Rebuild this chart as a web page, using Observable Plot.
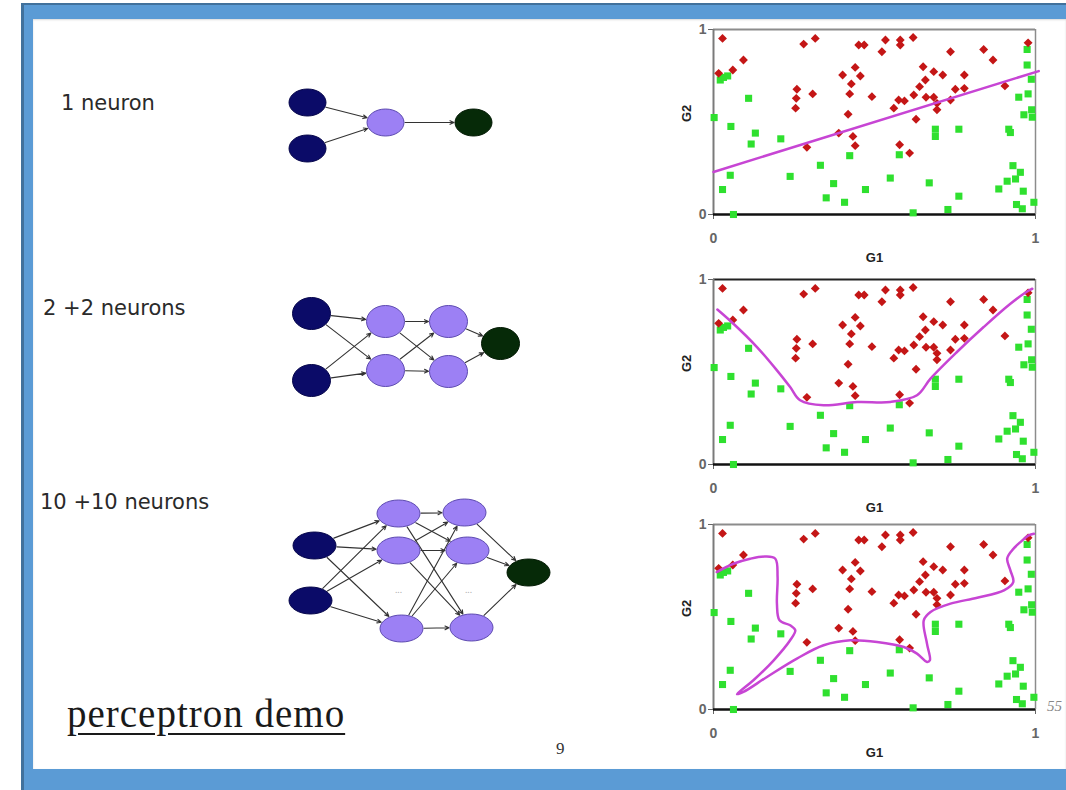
<!DOCTYPE html>
<html><head><meta charset="utf-8">
<script src="https://cdn.jsdelivr.net/npm/d3@7"></script>
<script src="https://cdn.jsdelivr.net/npm/@observablehq/plot@0.6"></script>
<style>
body{margin:0;background:#fff;}
#slide{position:relative;width:1066px;height:790px;overflow:hidden;background:#fff;}
.abs{position:absolute;}
.lbl{position:absolute;font-family:"DejaVu Sans",sans-serif;font-size:21px;line-height:21px;color:#2a2a2a;white-space:nowrap;}
svg{overflow:visible;}
</style></head><body>
<div id="slide">
  <div class="abs" style="left:21px;top:3px;right:0;bottom:0;background:#5b9bd5;border-left:3px solid #41719c;border-top:2px solid #41719c;"></div>
  <div class="abs" style="left:33px;top:19px;width:1033px;height:750px;background:#fff;box-shadow:0 1px 2px rgba(0,0,0,0.15) inset;"></div>
  <div class="lbl" style="left:61px;top:93px;">1 neuron</div>
  <div class="lbl" style="left:43px;top:298px;">2 +2 neurons</div>
  <div class="lbl" style="left:40px;top:492px;">10 +10 neurons</div>
  <div class="abs" style="left:67px;top:694px;font-family:'Liberation Serif',serif;font-size:39px;line-height:39px;letter-spacing:1px;color:#1a1a1a;text-decoration:underline;text-decoration-thickness:2px;text-underline-offset:6px;white-space:nowrap;">perceptron demo</div>
  <div class="abs" style="left:556px;top:740px;font-family:'Liberation Serif',serif;font-size:17px;line-height:17px;color:#333;">9</div>
  <div class="abs" style="left:1047px;top:699px;font-family:'Liberation Serif',serif;font-style:italic;font-size:15px;line-height:15px;color:#888;">55</div>
  <div id="nets" class="abs" style="left:30px;top:19px;"></div>
  <div id="p1" class="abs" style="left:672px;top:20px;"></div>
  <div id="p2" class="abs" style="left:672px;top:270px;"></div>
  <div id="p3" class="abs" style="left:672px;top:515px;"></div>
</div>
<script>
// ---------- scatter data (G1, G2) ----------
const redG1 = [0.028,0.016,0.06,0.093,0.28,0.316,0.259,0.257,0.255,0.308,0.29,0.389,0.401,0.44,0.456,0.428,0.423,0.418,0.433,0.44,0.451,0.468,0.492,0.523,0.534,0.58,0.58,0.62,0.56,0.575,0.593,0.578,0.609,0.629,0.622,0.64,0.658,0.651,0.66,0.684,0.684,0.694,0.694,0.712,0.736,0.736,0.751,0.779,0.779,0.839,0.868,0.905,0.977];
const redG2 = [0.952,0.763,0.781,0.835,0.921,0.952,0.677,0.628,0.575,0.652,0.363,0.44,0.754,0.795,0.749,0.706,0.652,0.542,0.422,0.372,0.916,0.916,0.637,0.88,0.943,0.943,0.916,0.957,0.575,0.619,0.614,0.377,0.332,0.515,0.646,0.691,0.727,0.799,0.634,0.772,0.634,0.601,0.566,0.754,0.88,0.619,0.677,0.754,0.682,0.892,0.835,0.695,0.928];
const greenG1 = [0.021,0.031,0.044,0.002,0.054,0.109,0.13,0.117,0.052,0.028,0.062,0.209,0.238,0.332,0.373,0.35,0.407,0.423,0.472,0.549,0.577,0.62,0.67,0.689,0.689,0.762,0.762,0.728,0.886,0.912,0.917,0.922,0.93,0.953,0.938,0.962,0.941,0.959,0.995,0.948,0.977,0.964,0.988,0.99,0.987,0.974,0.974];
const greenG2 = [0.727,0.741,0.749,0.524,0.476,0.628,0.44,0.381,0.212,0.135,0.0,0.409,0.206,0.266,0.167,0.09,0.066,0.318,0.135,0.197,0.323,0.009,0.171,0.461,0.422,0.461,0.099,0.027,0.138,0.18,0.461,0.443,0.264,0.228,0.192,0.126,0.054,0.031,0.066,0.634,0.652,0.539,0.566,0.526,0.731,0.808,0.892];

// decision boundaries
const line1G1 = [0, 1.01];
const line1G2 = [0.23, 0.775];
const line2G1 = [0.012,0.062,0.135,0.197,0.238,0.269,0.342,0.446,0.549,0.632,0.674,0.756,0.839,0.922,0.974,0.99];
const line2G2 = [0.838,0.761,0.635,0.509,0.419,0.347,0.32,0.338,0.338,0.374,0.464,0.608,0.743,0.869,0.935,0.95];
const line3G1 = [0.010,0.062,0.114,0.161,0.192,0.199,0.197,0.205,0.238,0.254,0.238,0.187,0.124,0.073,0.093,0.166,0.259,0.342,0.425,0.508,0.591,0.632,0.663,0.672,0.663,0.653,0.674,0.736,0.819,0.902,0.931,0.922,0.912,0.927,0.953,0.979,0.995];
const line3G2 = [0.743,0.788,0.815,0.827,0.815,0.716,0.572,0.482,0.455,0.428,0.374,0.266,0.158,0.083,0.095,0.176,0.275,0.347,0.374,0.365,0.338,0.302,0.257,0.266,0.356,0.482,0.527,0.572,0.604,0.644,0.689,0.752,0.815,0.86,0.905,0.941,0.95];
const axisTicks = [0, 1];

// ---------- network diagrams ----------
const net1Nodes = [
  {id:"i1",type:"in",x:307,y:102},{id:"i2",type:"in",x:307,y:148},
  {id:"h",type:"hid",x:385,y:122},{id:"o",type:"out",x:473,y:122}];
const net1Links = [["i1","h"],["i2","h"],["h","o"]];
const net2Nodes = [
  {id:"i1",type:"in",x:311,y:313},{id:"i2",type:"in",x:311,y:380},
  {id:"a1",type:"hid",x:385,y:321},{id:"a2",type:"hid",x:385,y:370},
  {id:"b1",type:"hid",x:448,y:321},{id:"b2",type:"hid",x:448,y:371},
  {id:"o",type:"out",x:500,y:343}];
const net2Links = [["i1","a1"],["i1","a2"],["i2","a1"],["i2","a2"],["a1","b1"],["a1","b2"],["a2","b1"],["a2","b2"],["b1","o"],["b2","o"]];
const net3Nodes = [
  {id:"i1",type:"in",x:314,y:545},{id:"i2",type:"in",x:310,y:600},
  {id:"a1",type:"hid",x:398,y:513},{id:"a2",type:"hid",x:398,y:550},{id:"a3",type:"hid",x:401,y:628},
  {id:"b1",type:"hid",x:464,y:512},{id:"b2",type:"hid",x:467,y:550},{id:"b3",type:"hid",x:471,y:627},
  {id:"o",type:"out",x:528,y:572}];
const net3Links = [["i1","a1"],["i1","a2"],["i1","a3"],["i2","a1"],["i2","a2"],["i2","a3"],
  ["a1","b1"],["a1","b2"],["a1","b3"],["a2","b1"],["a2","b2"],["a2","b3"],["a3","b1"],["a3","b2"],["a3","b3"],
  ["b1","o"],["b2","o"],["b3","o"]];
const net3Ellipsis = [{x:398,y:590,t:"..."},{x:468,y:590,t:"..."}];

const nodeFill = {in:"#0b0b68", hid:"#9c80f4", out:"#062a08"};
const nodeStroke = {in:"#05054a", hid:"#5d4ab0", out:"#031a04"};

function ellipseSymbol(k){
  return {draw(ctx, size){
    const r = Math.sqrt(size/Math.PI), rx = r*k, ry = r, c = 0.5523;
    ctx.moveTo(rx,0);
    ctx.bezierCurveTo(rx, ry*c, rx*c, ry, 0, ry);
    ctx.bezierCurveTo(-rx*c, ry, -rx, ry*c, -rx, 0);
    ctx.bezierCurveTo(-rx, -ry*c, -rx*c, -ry, 0, -ry);
    ctx.bezierCurveTo(rx*c, -ry, rx, -ry*c, rx, 0);
    ctx.closePath();
  }};
}
function clip(nodes, links, rx, ry){
  const byId = new Map(nodes.map(n=>[n.id,n]));
  return links.map(([s,t])=>{
    const a = byId.get(s), b = byId.get(t);
    const vx = b.x-a.x, vy = b.y-a.y;
    const f = 1/Math.hypot(vx/(rx+1), vy/(ry+1));
    return {x1:a.x+vx*f, y1:a.y+vy*f, x2:b.x-vx*f, y2:b.y-vy*f};
  });
}
function netMarks(nodes, links, rx, ry){
  const sym = ellipseSymbol(rx/ry);
  const marks = [Plot.arrow(clip(nodes, links, rx, ry), {x1:"x1",y1:"y1",x2:"x2",y2:"y2",stroke:"#333",strokeWidth:1.1,headLength:6,headAngle:50})];
  for (const t of ["in","hid","out"]) {
    marks.push(Plot.dot(nodes.filter(d=>d.type===t), {x:"x",y:"y",r:ry,symbol:sym,fill:nodeFill[t],stroke:nodeStroke[t],strokeWidth:1}));
  }
  return marks;
}
const nets = Plot.plot({
  width:640, height:750, margin:0,
  style:{background:"transparent", overflow:"visible"},
  x:{domain:[30,670], range:[0,640], axis:null},
  y:{domain:[19,769], range:[0,750], axis:null},
  marks:[
    ...netMarks(net1Nodes, net1Links, 18.5, 13.5),
    ...netMarks(net2Nodes, net2Links, 19, 16),
    ...netMarks(net3Nodes, net3Links, 21.5, 13.5),
    Plot.text(net3Ellipsis, {x:"x",y:"y",text:"t",fill:"#aaa",fontSize:9})
  ]
});
document.getElementById("nets").append(nets);

function scatter(lx, ly, topColor){
  const red = redG1.map((x,i)=>({x, y:redG2[i]}));
  const green = greenG1.map((x,i)=>({x, y:greenG2[i]}));
  const curve = lx.map((x,i)=>({x, y:ly[i]}));
  return Plot.plot({
    width:394, height:245, marginLeft:41, marginRight:31, marginTop:9, marginBottom:51,
    style:{background:"transparent", fontFamily:"'Liberation Sans', Arial, sans-serif", fontSize:"14px", color:"#666", fontWeight:"bold", overflow:"visible"},
    x:{domain:[0,1], ticks:axisTicks, tickSize:5, tickPadding:14, label:null, tickFormat:d=>d},
    y:{domain:[0,1], ticks:axisTicks, tickSize:5, tickPadding:2, label:null, tickFormat:d=>d},
    marks:[
      Plot.ruleX([1], {stroke:"#8c8c8c", strokeWidth:1.5}),
      Plot.ruleY([1], {stroke:topColor, strokeWidth:2}),
      Plot.ruleX([0], {stroke:"#7a7a7a", strokeWidth:2}),
      Plot.ruleY([0], {stroke:"#111", strokeWidth:2.5}),
      Plot.dot(green, {x:"x", y:"y", symbol:"square", r:4, fill:"#2fe02f"}),
      Plot.dot(red, {x:"x", y:"y", symbol:"diamond2", r:4, fill:"#c41616"}),
      Plot.line(curve, {x:"x", y:"y", stroke:"#c745d4", strokeWidth:2.5, curve:"catmull-rom"}),
      Plot.text(["G1"], {text:d=>d, frameAnchor:"bottom", dy:47, fill:"#222", fontWeight:"bold", fontSize:13}),
      Plot.text(["G2"], {text:d=>d, frameAnchor:"left", dx:-27, rotate:-90, fill:"#222", fontWeight:"bold", fontSize:13})
    ]
  });
}
document.getElementById("p1").append(scatter(line1G1, line1G2, "#8c8c8c"));
document.getElementById("p2").append(scatter(line2G1, line2G2, "#222"));
document.getElementById("p3").append(scatter(line3G1, line3G2, "#8c8c8c"));
</script>
</body></html>
